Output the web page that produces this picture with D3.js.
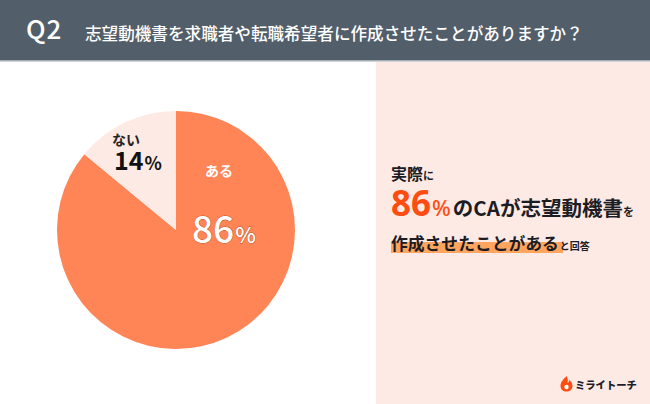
<!DOCTYPE html>
<html><head><meta charset="utf-8">
<script src="https://cdn.jsdelivr.net/npm/d3@7"></script>
<style>
html,body{margin:0;padding:0;background:#fff;}
text{font-family:"Noto Sans CJK JP","Noto Sans",sans-serif;}
</style></head>
<body>
<svg id="c" width="650" height="404"></svg>
<script>
const categories = ["ある", "ない"];
const values = [86, 14];
const colors = ["#ff8557", "#fdeae4"];
const title = "志望動機書を求職者や転職希望者に作成させたことがありますか？";

const svg = d3.select("#c");
// header
svg.append("rect").attr("x",0).attr("y",0).attr("width",650).attr("height",60).attr("fill","#525e6a");
svg.append("rect").attr("x",0).attr("y",60).attr("width",650).attr("height",1.5).attr("fill","#a3abb2");
svg.append("text").attr("x",26).attr("y",39).attr("fill","#fff").attr("font-size",26).attr("font-weight",500)
  .attr("letter-spacing",1).attr("font-family","Roboto, 'Liberation Sans', sans-serif").text("Q2");
svg.append("text").attr("x",85).attr("y",40).attr("fill","#fff").attr("font-size",16.6).attr("font-weight",500).text(title);

// right panel
svg.append("rect").attr("x",376).attr("y",62).attr("width",274).attr("height",342).attr("fill","#fdeae4");

// pie
const cx = 176, cy = 230, r = 119;
const pie = d3.pie().sort(null).value(d => d)(values);
const arc = d3.arc().innerRadius(0).outerRadius(r);
const g = svg.append("g").attr("transform",`translate(${cx},${cy})`);
g.selectAll("path").data(pie).enter().append("path").attr("d",arc).attr("fill",(d,i)=>colors[i]);

// labels
const lab = svg.append("g");
// ある 86%
lab.append("text").attr("x",205).attr("y",176).attr("fill","#fff").attr("font-size",14).attr("font-weight",700).text(categories[0]);
const t86 = lab.append("text").attr("x",192).attr("y",243).attr("fill","#fff").attr("stroke","#b5532b").attr("stroke-width",0.8)
  .attr("paint-order","stroke").attr("font-weight",500).attr("font-family","'Noto Sans', sans-serif");
t86.append("tspan").attr("font-size",37).text(values[0]);
t86.append("tspan").attr("font-size",22).attr("dx",1).text("%");
// ない 14%
lab.append("text").attr("x",112).attr("y",145).attr("fill","#222").attr("font-size",14).attr("font-weight",700).text(categories[1]);
const t14 = lab.append("text").attr("x",114).attr("y",170).attr("fill","#111").attr("font-weight",700).attr("font-family","'Noto Sans', sans-serif");
t14.append("tspan").attr("font-size",25).text(values[1]);
t14.append("tspan").attr("font-size",18).attr("dx",1).text("%");

// right text
const dark = "#1c1c24";
const l1 = svg.append("text").attr("x",391).attr("y",180).attr("fill",dark).attr("font-weight",700);
l1.append("tspan").attr("font-size",16).text("実際");
l1.append("tspan").attr("font-size",11).text("に");

const l2 = svg.append("text").attr("x",391).attr("y",216).attr("font-weight",700);
l2.append("tspan").attr("font-size",35).attr("fill","#ff4d12").attr("font-family","'Noto Sans', sans-serif").text(values[0]);
l2.append("tspan").attr("font-size",22).attr("fill","#ff4d12").attr("font-weight",500).attr("dx",1).attr("font-family","'Noto Sans', sans-serif").text("%");
l2.append("tspan").attr("font-size",20.5).attr("fill",dark).attr("dx",2).text("のCAが志望動機書");
l2.append("tspan").attr("font-size",11).attr("fill",dark).text("を");

svg.append("rect").attr("x",391).attr("y",242).attr("width",172).attr("height",11).attr("fill","#ffa55f");
const l3 = svg.append("text").attr("x",391).attr("y",250).attr("fill",dark).attr("font-weight",700);
l3.append("tspan").attr("font-size",16.8).text("作成させたことがある");
l3.append("tspan").attr("font-size",10).attr("dx",1).text("と回答");

// logo
const logo = svg.append("g").attr("transform","translate(566.5,384)");
logo.append("path").attr("d","M0,-8 C-3,-5 -6,-2 -6,2 C-6,5.5 -3.5,7.5 0,7.5 C3.5,7.5 6,5.5 6,2 C6,-1 4.5,-3 2.5,-4 C2.5,-2 1.8,-1 1,-1 C1.8,-4 1,-6 0,-8 Z").attr("fill","#ff4d12");
logo.append("circle").attr("cx",0).attr("cy",3).attr("r",2.2).attr("fill","#fff");
svg.append("text").attr("x",575).attr("y",389).attr("fill","#1c1c2a").attr("font-size",10.3).attr("font-weight",900).text("ミライトーチ");
</script>
</body></html>
